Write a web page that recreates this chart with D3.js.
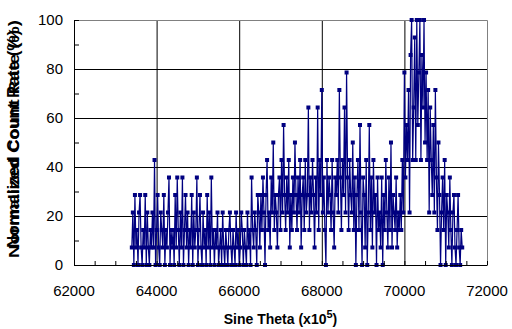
<!DOCTYPE html>
<html>
<head>
<meta charset="utf-8">
<script src="https://cdn.jsdelivr.net/npm/d3@7"></script>
<style>
  body { margin: 0; background: #fff; }
  text { font-family: "Liberation Sans", Arial, sans-serif; }
</style>
</head>
<body>
<div id="chart"></div>
<script>
// scan settings (sine theta, x10^5)
var scanStart = 63400;
var scanStep = 25;

// raw counts, one per scan step (max count = 14 -> 100%)
var maxCount = 14;
var counts = [
  1,3,0,4,1,2,0,3,4,1,0,2,1,4,0,3,1,0,2,1,
  3,1,6,0,2,4,1,0,3,2,1,4,0,2,1,3,5,0,2,1,
  2,0,4,1,5,2,0,3,1,5,0,2,4,1,3,0,2,1,4,0,
  3,1,2,5,0,2,4,1,0,3,1,2,0,4,1,3,0,5,1,2,
  0,2,1,3,0,1,2,0,3,1,0,2,1,0,2,3,1,0,2,1,
  0,3,1,2,0,1,3,2,0,2,1,0,3,1,2,0,5,2,1,3,
  2,0,4,3,1,4,2,5,3,0,4,6,2,3,1,5,3,7,2,4,
  3,1,4,5,2,6,3,8,4,2,5,3,6,1,4,2,5,3,7,4,
  2,5,3,6,1,4,5,2,6,3,4,9,2,5,3,6,4,1,5,3,
  9,2,6,4,10,3,5,2,0,6,3,5,4,2,6,3,1,5,4,6,
  3,10,5,2,6,4,9,3,11,5,2,6,4,3,7,2,5,0,4,6,
  2,8,3,0,5,4,1,6,0,3,8,2,5,1,6,3,4,0,5,2,
  3,1,5,0,4,2,6,3,1,5,2,7,1,4,3,2,5,1,3,2,
  4,2,6,3,11,5,8,6,10,3,12,14,6,9,13,6,14,8,11,14,
  6,12,9,14,7,11,6,10,3,9,6,4,8,3,10,5,2,7,4,0,
  3,5,2,6,0,4,3,1,5,2,0,3,4,1,0,2,4,1,0,2,
  1
];

var xTicks = [62000, 64000, 66000, 68000, 70000, 72000];
var yTicks = [0, 20, 40, 60, 80, 100];

var data = counts.map(function (c, i) {
  return { x: scanStart + i * scanStep, y: c / maxCount * 100 };
});

var svgWidth = 512, svgHeight = 329;
var margin = { top: 20, right: 25, bottom: 64, left: 74 };
var width = svgWidth - margin.left - margin.right;
var height = svgHeight - margin.top - margin.bottom;

var svg = d3.select("#chart").append("svg")
  .attr("width", svgWidth)
  .attr("height", svgHeight);

var chartGroup = svg.append("g")
  .attr("transform", `translate(${margin.left}, ${margin.top})`);

var xScale = d3.scaleLinear().domain([62000, 72000]).range([0, width]);
var yScale = d3.scaleLinear().domain([0, 100]).range([height, 0]);

// gridlines
chartGroup.append("g")
  .selectAll("line")
  .data(yTicks.slice(1, -1))
  .enter().append("line")
  .attr("x1", 0).attr("x2", width)
  .attr("y1", d => yScale(d) + 0.5).attr("y2", d => yScale(d) + 0.5)
  .attr("stroke", "#000").attr("stroke-width", 1);

chartGroup.append("g")
  .selectAll("line")
  .data(xTicks.slice(1, -1))
  .enter().append("line")
  .attr("x1", d => xScale(d) + 0.5).attr("x2", d => xScale(d) + 0.5)
  .attr("y1", 0).attr("y2", height)
  .attr("stroke", "#000").attr("stroke-width", 1);

// top and right frame
chartGroup.append("path")
  .attr("d", `M0,0.5H${width + 0.5}V${height}`)
  .attr("fill", "none")
  .attr("stroke", "#808080")
  .attr("stroke-width", 1);

// data line + markers
var line = d3.line()
  .x(d => xScale(d.x))
  .y(d => yScale(d.y));

chartGroup.append("path")
  .datum(data)
  .attr("d", line)
  .attr("fill", "none")
  .attr("stroke", "#000080")
  .attr("stroke-width", 1.2);

chartGroup.selectAll(".marker")
  .data(data)
  .enter().append("rect")
  .attr("class", "marker")
  .attr("x", d => xScale(d.x) - 2)
  .attr("y", d => yScale(d.y) - 2)
  .attr("width", 4)
  .attr("height", 4)
  .attr("fill", "#000080");

// axes, ticks inside
var bottomAxis = d3.axisBottom(xScale)
  .tickValues(d3.range(62000, 72001, 500))
  .tickSize(-4)
  .tickSizeOuter(0)
  .tickFormat("");

var leftAxis = d3.axisLeft(yScale)
  .tickValues(d3.range(0, 101, 10))
  .tickSize(-5)
  .tickSizeOuter(0)
  .tickFormat("");

var xAxis = chartGroup.append("g")
  .attr("transform", `translate(0, ${height})`)
  .call(bottomAxis);

var yAxis = chartGroup.append("g")
  .call(leftAxis);

chartGroup.selectAll(".domain").attr("stroke", "#000");
chartGroup.selectAll(".tick line").attr("stroke", "#000");

// tick labels
chartGroup.append("g")
  .selectAll("text")
  .data(xTicks)
  .enter().append("text")
  .attr("x", d => xScale(d))
  .attr("y", height + 31)
  .attr("text-anchor", "middle")
  .style("font-size", "15px")
  .text(d => d);

chartGroup.append("g")
  .selectAll("text")
  .data(yTicks)
  .enter().append("text")
  .attr("x", -11)
  .attr("y", d => yScale(d) + 5)
  .attr("text-anchor", "end")
  .style("font-size", "15px")
  .text(d => d);

// axis titles
var xTitle = svg.append("text")
  .attr("x", margin.left + width / 2)
  .attr("y", 324)
  .attr("text-anchor", "middle")
  .style("font-size", "14px")
  .style("font-weight", "bold");
xTitle.append("tspan").text("Sine Theta (x10");
xTitle.append("tspan").attr("dy", -6).style("font-size", "11px").text("5");
xTitle.append("tspan").attr("dy", 6).text(")");

// the y title is two labels printed over each other
var yMid = 139;
svg.append("text")
  .attr("transform", `translate(19, ${yMid}) rotate(-90)`)
  .attr("text-anchor", "middle")
  .style("font-size", "17px")
  .style("font-weight", "bold")
  .text("Normalized Count Rate (%)");

svg.append("text")
  .attr("transform", `translate(19, ${yMid}) rotate(-90)`)
  .attr("text-anchor", "middle")
  .attr("textLength", 238)
  .attr("lengthAdjust", "spacingAndGlyphs")
  .style("font-size", "15px")
  .style("font-weight", "bold")
  .text("Normalized Count Rate (%)");
</script>
</body>
</html>
